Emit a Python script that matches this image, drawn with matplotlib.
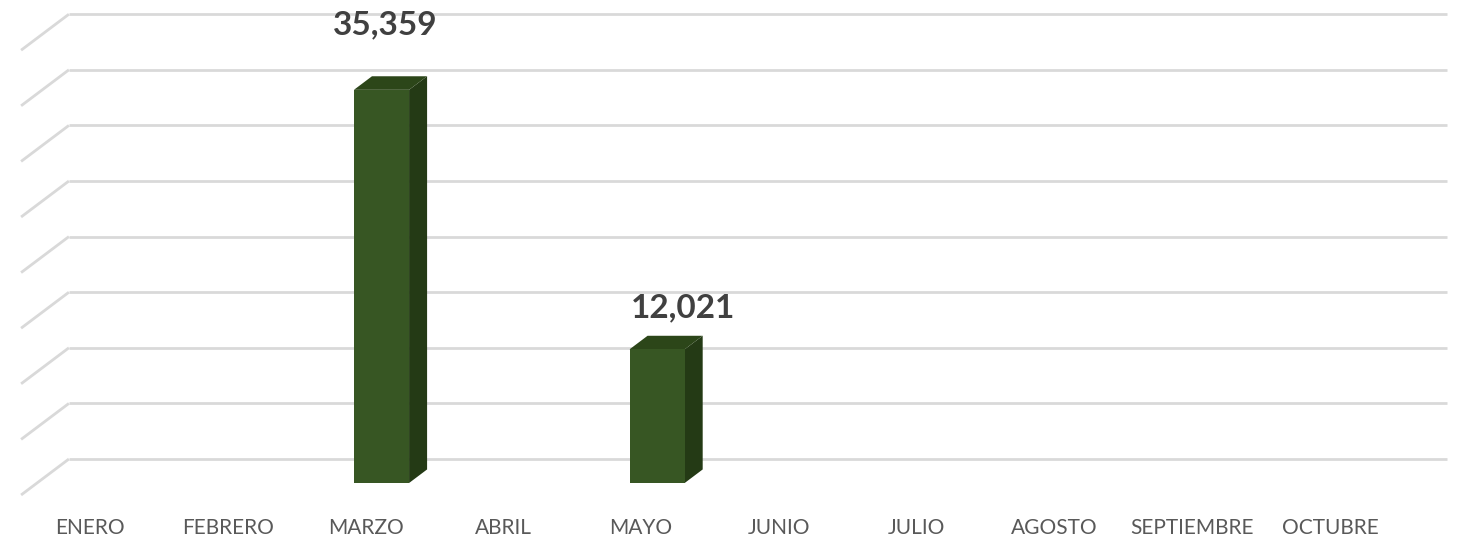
import matplotlib.pyplot as plt
from matplotlib.patches import Polygon

# data
months = ['ENERO', 'FEBRERO', 'MARZO', 'ABRIL', 'MAYO', 'JUNIO',
          'JULIO', 'AGOSTO', 'SEPTIEMBRE', 'OCTUBRE']
values = [0, 0, 35359, 0, 12021, 0, 0, 0, 0, 0]
grid_values = list(range(0, 40001, 5000))
# manual data label nudges (points), as in the source chart
label_offsets = {2: (2.5, 37), 4: (19, 20)}

# fake 3D geometry (in data units)
DX = 0.347      # depth shift along x for full depth
DY = 3237       # depth shift along y for full depth
D0, D1 = 0.333, 0.71   # bar front / back depth
BW = 0.40       # bar width

FRONT = '#375623'
SIDE = '#243a15'
TOP = '#2c4619'
GRID = '#d9d9d9'

fig = plt.figure(figsize=(14.71, 5.37), dpi=100)
ax = fig.add_axes([0, 0, 1, 1])
ax.set_xlim(-0.653, 10.022)
ax.set_ylim(-3777, 44515)
ax.axis('off')

n = len(months)
left, right = -0.5, n - 0.5

# back wall gridlines + left floor/wall diagonals
for v in grid_values:
    ax.plot([left + DX, right + DX], [v + DY, v + DY], color=GRID, lw=2,
            solid_capstyle='butt', zorder=1)
    ax.plot([left, left + DX], [v, v + DY], color=GRID, lw=2,
            solid_capstyle='butt', zorder=1)

for i, v in enumerate(values):
    if v <= 0:
        continue
    x0 = i - BW / 2 + D0 * DX
    x1 = i + BW / 2 + D0 * DX
    y0 = D0 * DY
    y1 = v + D0 * DY
    sx = (D1 - D0) * DX
    sy = (D1 - D0) * DY
    front = [(x0, y0), (x1, y0), (x1, y1), (x0, y1)]
    side = [(x1, y0), (x1 + sx, y0 + sy), (x1 + sx, y1 + sy), (x1, y1)]
    top = [(x0, y1), (x1, y1), (x1 + sx, y1 + sy), (x0 + sx, y1 + sy)]
    ax.add_patch(Polygon(side, closed=True, fc=SIDE, ec='none', zorder=3))
    ax.add_patch(Polygon(top, closed=True, fc=TOP, ec='none', zorder=3))
    ax.add_patch(Polygon(front, closed=True, fc=FRONT, ec='none', zorder=4))
    off = label_offsets.get(i, (0, 30))
    ax.annotate('{:,}'.format(v), xy=(i + D0 * DX, v + D1 * DY),
                xytext=off, textcoords='offset points',
                ha='center', va='center', fontsize=24, fontweight='bold',
                family='Lato', color='#404040', zorder=5)

# category labels
for i, m in enumerate(months):
    ax.text(i, -2950, m, ha='center', va='center', fontsize=15,
            family='Lato', color='#595959')

fig.savefig('out.png', dpi=100, facecolor='white')
